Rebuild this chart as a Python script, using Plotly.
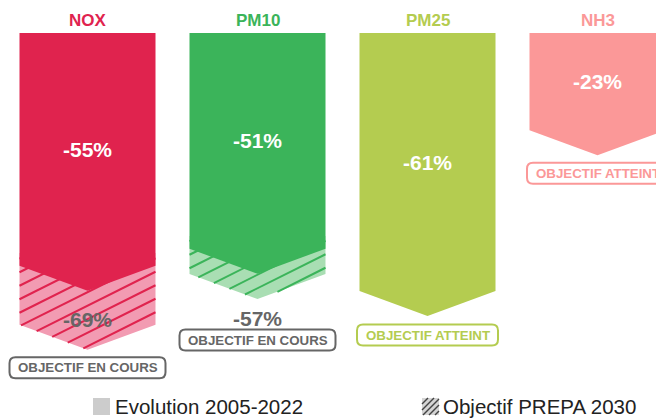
import plotly.graph_objects as go

# ---------------- data ----------------
pollutants = ["NOX", "PM10", "PM25", "NH3"]
evolution = [-55, -51, -61, -23]          # Evolution 2005-2022 (%)
objective = [-69, -57, None, None]        # Objectif PREPA 2030 (%) still to reach
status = ["OBJECTIF EN COURS", "OBJECTIF EN COURS", "OBJECTIF ATTEINT", "OBJECTIF ATTEINT"]
legend_labels = ["Evolution 2005-2022", "Objectif PREPA 2030"]

# ---------------- style ----------------
colors = ["#E0234E", "#3BB45A", "#B4CC50", "#FB9898"]
hatch_bg = ["#F29BB2", "#A9DEB3", None, None]
GRAY = "#666666"
FONT = "Liberation Sans, Arial, sans-serif"

PAGE_OFF = 8                      # default body margin of the html page
W, H = 664 - PAGE_OFF, 419 - PAGE_OFF
ZERO_PX = 33.0 - PAGE_OFF
PX_PER_UNIT = 4.23
SLOT_PX = 170.0
FIRST_CENTER_PX = 87.5 - PAGE_OFF
BAR_W = 0.8
TIP_PX = 25.0
HATCH_SLOPE = 0.5
HATCH_STEP_PX = 13.5
OBJ_LABEL_DY = [5, -44]          # px, relative to objective level
BADGE_DY = [-18, -41, -19, -18]   # px, relative to lowest tip
BADGE_W = {"OBJECTIF EN COURS": 156, "OBJECTIF ATTEINT": 141}
BADGE_H = 21
BADGE_R = 6

TIP = TIP_PX / PX_PER_UNIT
x_range = [-FIRST_CENTER_PX / SLOT_PX, (W - FIRST_CENTER_PX) / SLOT_PX]
y_range = [-(H - ZERO_PX) / PX_PER_UNIT, ZERO_PX / PX_PER_UNIT]


def to_px(x, y):
    return FIRST_CENTER_PX + x * SLOT_PX, ZERO_PX - y * PX_PER_UNIT


def to_data(px, py):
    return (px - FIRST_CENTER_PX) / SLOT_PX, (ZERO_PX - py) / PX_PER_UNIT


def arrow(i, v, top=0):
    x0, x1 = i - BAR_W / 2, i + BAR_W / 2
    return [x0, x1, x1, i, x0, x0], [top, top, v, v - TIP, v, top]


def clip_line(poly, c, slope):
    """intersect line py = c - slope*px with convex polygon (pixel coords)"""
    pts = []
    n = len(poly)
    for k in range(n):
        (ax, ay), (bx, by) = poly[k], poly[(k + 1) % n]
        fa = ay - (c - slope * ax)
        fb = by - (c - slope * bx)
        if fa == fb:
            continue
        if (fa <= 0 <= fb) or (fb <= 0 <= fa):
            t = fa / (fa - fb)
            pts.append((ax + t * (bx - ax), ay + t * (by - ay)))
    if len(pts) < 2:
        return None
    pts.sort()
    return pts[0], pts[-1]


fig = go.Figure()

# hatched objective arrows (behind the solid ones, starting under their flat part)
for i, (o, bg) in enumerate(zip(objective, hatch_bg)):
    if o is None:
        continue
    xs, ys = arrow(i, o, top=evolution[i] + 3)
    fig.add_trace(go.Scatter(x=xs, y=ys, fill="toself", fillcolor=bg, mode="lines",
                             line=dict(width=0), hoverinfo="skip", showlegend=False))
    poly = [to_px(x, y) for x, y in zip(xs[:-1], ys[:-1])]
    pys = [p[1] + HATCH_SLOPE * p[0] for p in poly]
    cmin, cmax = min(pys), max(pys)
    lx, ly = [], []
    c = cmin - (cmin % HATCH_STEP_PX)
    while c <= cmax + HATCH_STEP_PX:
        seg = clip_line(poly, c, HATCH_SLOPE)
        if seg:
            for p in seg:
                dx, dy = to_data(*p)
                lx.append(dx)
                ly.append(dy)
            lx.append(None)
            ly.append(None)
        c += HATCH_STEP_PX
    fig.add_trace(go.Scatter(x=lx, y=ly, mode="lines", line=dict(color=colors[i], width=2),
                             hoverinfo="skip", showlegend=False))

# solid evolution arrows
for i, (v, col) in enumerate(zip(evolution, colors)):
    xs, ys = arrow(i, v)
    fig.add_trace(go.Scatter(x=xs, y=ys, fill="toself", fillcolor=col, mode="lines",
                             line=dict(width=0), hoverinfo="skip", showlegend=False))

ann = []
shapes = []
for i, name in enumerate(pollutants):
    v = evolution[i]
    o = objective[i]
    # title
    ann.append(dict(x=i, y=0, text=f"<b>{name}</b>", showarrow=False, yshift=13,
                    font=dict(family=FONT, size=17, color=colors[i])))
    # evolution value
    ann.append(dict(x=i, y=v / 2, text=f"<b>{v}%</b>", showarrow=False,
                    font=dict(family=FONT, size=21, color="white")))
    lowest = v if o is None else o
    if o is not None:
        ann.append(dict(x=i, y=o, text=f"<b>{o}%</b>", showarrow=False, yshift=OBJ_LABEL_DY[i],
                        font=dict(family=FONT, size=21, color=GRAY)))
    # status badge
    tip = lowest - TIP
    bcol = GRAY if status[i] == "OBJECTIF EN COURS" else colors[i]
    w = BADGE_W[status[i]]
    h = BADGE_H
    r = BADGE_R
    cy = BADGE_DY[i]
    x0, x1 = -w / 2, w / 2
    y0, y1 = cy - h / 2, cy + h / 2
    path = (f"M{x0 + r},{y0} L{x1 - r},{y0} Q{x1},{y0} {x1},{y0 + r} L{x1},{y1 - r} "
            f"Q{x1},{y1} {x1 - r},{y1} L{x0 + r},{y1} Q{x0},{y1} {x0},{y1 - r} "
            f"L{x0},{y0 + r} Q{x0},{y0} {x0 + r},{y0} Z")
    shapes.append(dict(type="path", xref="x", yref="y", xsizemode="pixel", ysizemode="pixel",
                       xanchor=i, yanchor=tip, path=path, fillcolor="white",
                       line=dict(color=bcol, width=2)))
    ann.append(dict(x=i, y=tip, yshift=cy, text=f"<b>{status[i]}</b>", showarrow=False,
                    font=dict(family=FONT, size=13.3, color=bcol)))

# ---------------- legend (paper coords, drawn by hand) ----------------
def px2paper(px, py):
    # px, py given in reference-window pixels
    return (px - PAGE_OFF) / W, 1 - (py - PAGE_OFF) / H

LEG_Y0, LEG_Y1 = 398, 415
box1 = (93, 110)
box2 = (422, 439)
a0 = px2paper(box1[0], LEG_Y1); a1 = px2paper(box1[1], LEG_Y0)
shapes.append(dict(type="rect", xref="paper", yref="paper", x0=a0[0], y0=a0[1], x1=a1[0], y1=a1[1],
                   fillcolor="#CCCCCC", line=dict(width=0)))
b0 = px2paper(box2[0], LEG_Y1); b1 = px2paper(box2[1], LEG_Y0)
shapes.append(dict(type="rect", xref="paper", yref="paper", x0=b0[0], y0=b0[1], x1=b1[0], y1=b1[1],
                   fillcolor="#D4D4D4", line=dict(width=0)))
sq = [(box2[0], LEG_Y0), (box2[1], LEG_Y0), (box2[1], LEG_Y1), (box2[0], LEG_Y1)]
for c in [box2[0] + LEG_Y0 + k * 6 for k in range(1, 6)]:
    seg = clip_line(sq, c, 1.0)
    if seg:
        p, q = seg
        pp, qq = px2paper(*p), px2paper(*q)
        shapes.append(dict(type="line", xref="paper", yref="paper", x0=pp[0], y0=pp[1],
                           x1=qq[0], y1=qq[1], line=dict(color="#444444", width=1.5)))

leg_mid = px2paper(0, (LEG_Y0 + LEG_Y1) / 2)[1]
ann.append(dict(xref="paper", yref="paper", x=px2paper(box1[1] + 3, 0)[0], y=leg_mid, xanchor="left",
                yanchor="middle", text=legend_labels[0], showarrow=False,
                font=dict(family=FONT, size=20.5, color="#222222")))
ann.append(dict(xref="paper", yref="paper", x=px2paper(box2[1] + 2, 0)[0], y=leg_mid, xanchor="left",
                yanchor="middle", text=legend_labels[1], showarrow=False,
                font=dict(family=FONT, size=20.5, color="#222222")))

fig.update_layout(
    width=W, height=H,
    margin=dict(l=0, r=0, t=0, b=0, pad=0),
    paper_bgcolor="white", plot_bgcolor="white",
    xaxis=dict(range=x_range, visible=False, fixedrange=True),
    yaxis=dict(range=y_range, visible=False, fixedrange=True),
    annotations=ann, shapes=shapes, showlegend=False,
)

fig.write_html("out.html")
